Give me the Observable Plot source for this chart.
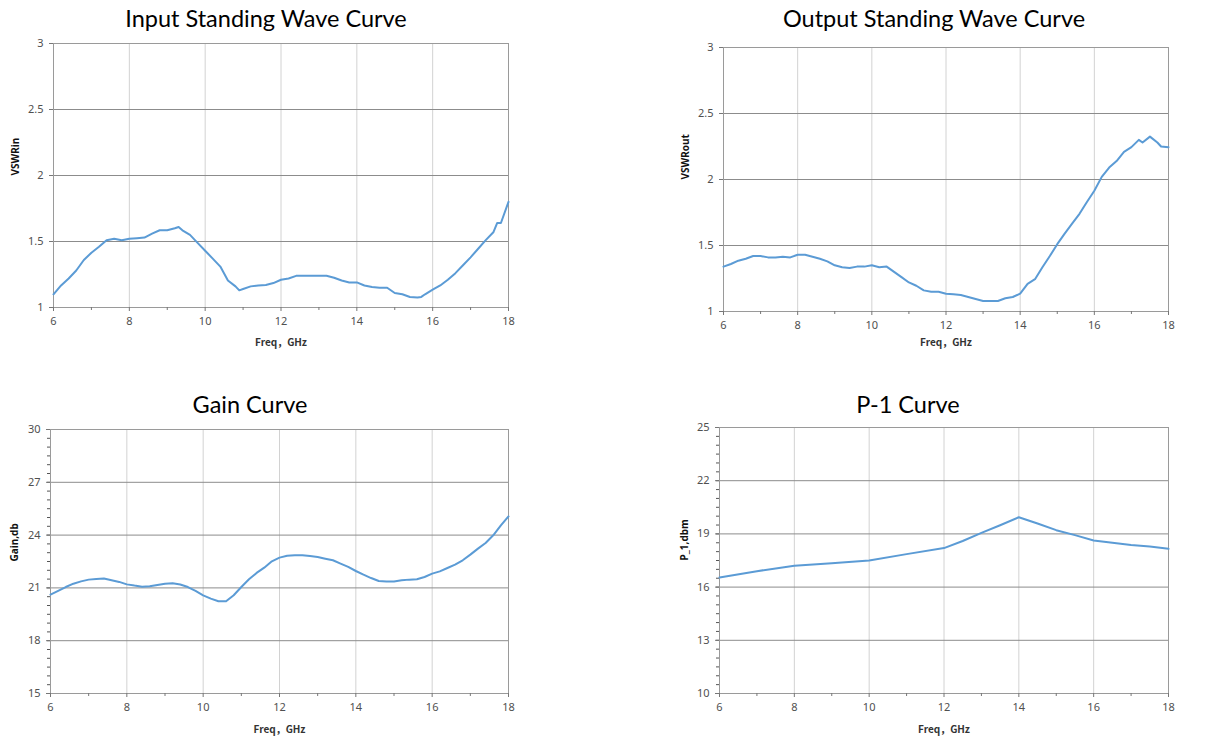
<!DOCTYPE html>
<html><head><meta charset="utf-8">
<script src="https://cdn.jsdelivr.net/npm/d3@7"></script>
<script src="https://cdn.jsdelivr.net/npm/@observablehq/plot@0.6"></script>
<style>
body{margin:0;background:#fff;}
#root{position:relative;width:1213px;height:744px;overflow:hidden;font-family:"Noto Sans",sans-serif;}
.title{position:absolute;font-family:Lato,sans-serif;font-size:23.5px;line-height:1;white-space:nowrap;transform:translateX(-50%);color:#000;}
.panel{position:absolute;}
</style></head><body><div id="root"></div><script>
// ---- Data ----
const freqIn = [6,6.2,6.4,6.6,6.8,7,7.2,7.4,7.6,7.8,8,8.2,8.4,8.6,8.8,9,9.2,9.3,9.4,9.6,9.8,10,10.2,10.4,10.6,10.8,10.9,11,11.2,11.4,11.6,11.8,12,12.2,12.4,12.6,12.8,13,13.2,13.4,13.6,13.8,14,14.2,14.4,14.6,14.8,15,15.2,15.4,15.6,15.7,15.8,16,16.2,16.4,16.6,16.8,17,17.2,17.4,17.6,17.7,17.8,18];
const vswrIn = [1.10,1.167,1.22,1.28,1.36,1.415,1.46,1.51,1.52,1.51,1.52,1.525,1.53,1.56,1.585,1.585,1.60,1.61,1.585,1.55,1.49,1.43,1.37,1.31,1.205,1.16,1.13,1.14,1.16,1.167,1.17,1.185,1.21,1.22,1.24,1.24,1.24,1.24,1.24,1.225,1.205,1.19,1.19,1.167,1.155,1.15,1.15,1.11,1.10,1.08,1.076,1.08,1.10,1.135,1.167,1.21,1.26,1.32,1.38,1.445,1.51,1.57,1.64,1.64,1.80];

const freqOut = [6,6.2,6.4,6.6,6.8,7,7.2,7.4,7.6,7.8,8,8.2,8.4,8.6,8.8,9,9.2,9.4,9.6,9.8,10,10.2,10.4,10.6,10.8,11,11.2,11.4,11.6,11.8,12,12.2,12.4,12.6,12.8,13,13.2,13.4,13.6,13.8,14,14.2,14.4,14.6,14.8,15,15.2,15.4,15.6,15.8,16,16.2,16.4,16.6,16.8,17,17.2,17.3,17.5,17.7,17.8,18];
const vswrOut = [1.34,1.36,1.385,1.40,1.42,1.42,1.41,1.41,1.415,1.41,1.43,1.43,1.415,1.40,1.38,1.35,1.335,1.33,1.34,1.34,1.35,1.335,1.34,1.30,1.26,1.22,1.195,1.16,1.15,1.15,1.135,1.13,1.125,1.11,1.095,1.08,1.08,1.08,1.10,1.11,1.135,1.21,1.245,1.335,1.42,1.51,1.59,1.665,1.74,1.83,1.915,2.02,2.09,2.14,2.21,2.245,2.30,2.28,2.325,2.28,2.25,2.245];

const freqGain = [6,6.2,6.4,6.6,6.8,7,7.2,7.4,7.6,7.8,8,8.2,8.4,8.6,8.8,9,9.2,9.4,9.6,9.8,10,10.2,10.4,10.6,10.8,11,11.2,11.4,11.6,11.8,12,12.2,12.4,12.6,12.8,13,13.2,13.4,13.6,13.8,14,14.2,14.4,14.6,14.8,15,15.2,15.4,15.6,15.8,16,16.2,16.4,16.6,16.8,17,17.2,17.4,17.6,17.8,18];
const gain = [20.62,20.83,21.05,21.24,21.37,21.47,21.51,21.53,21.43,21.34,21.2,21.13,21.07,21.09,21.17,21.24,21.26,21.19,21.05,20.83,20.58,20.39,20.24,20.24,20.58,21.05,21.49,21.85,22.15,22.51,22.72,22.83,22.85,22.85,22.81,22.76,22.66,22.57,22.38,22.19,21.96,21.75,21.56,21.39,21.37,21.37,21.43,21.47,21.49,21.62,21.81,21.94,22.13,22.32,22.57,22.89,23.23,23.55,23.99,24.55,25.06];

const freqP1 = [6,7,8,9,10,11,12,12.5,13,13.5,14,14.5,15,15.5,16,16.5,17,17.5,18];
const p1 = [16.54,16.9,17.2,17.35,17.5,17.86,18.2,18.6,19.06,19.49,19.94,19.59,19.21,18.93,18.63,18.5,18.38,18.29,18.16];

const xMajorTicks = [6,8,10,12,14,16,18];
const xMinorTicks = [7,9,11,13,15,17];
const vswrTicks = [1,1.5,2,2.5,3];
const gainTicks = [15,18,21,24,27,30];
const p1Ticks = [10,13,16,19,22,25];

const titles = ["Input Standing Wave Curve","Output Standing Wave Curve","Gain Curve","P-1 Curve"];
const xLabel = "Freq，GHz";
const yLabels = ["VSWRin","VSWRout","Gain,db","P_1,dbm"];

// ---- Rendering ----
const root = document.getElementById("root");
const rows = (xs, ys) => xs.map((f, i) => ({f, v: ys[i]}));

function halfSteps(lo, hi) { const r = []; for (let v = lo; v <= hi + 1e-9; v += 0.5) r.push(+v.toFixed(2)); return r; }

function panel(cfg) {
  const [fl, ft, fr, fb] = cfg.frame;
  const marks = [
    Plot.gridX(xMajorTicks, {stroke: "#d2d2d2", strokeOpacity: 1}),
    Plot.gridY(cfg.yTicks, {stroke: "#8c8c8c", strokeOpacity: 1}),
    Plot.frame({stroke: "#9a9a9a"}),
    Plot.axisX(xMinorTicks, {tickSize: 3, tickFormat: () => "", label: null, stroke: "#777"}),
    Plot.axisX(xMajorTicks, {tickSize: 4, tickPadding: 6, tickFormat: d => String(d), label: null, stroke: "#777", fill: "#505050"}),
  ];
  if (cfg.yMinor) marks.push(Plot.axisY(cfg.yMinor, {tickSize: 3, tickFormat: () => "", label: null, stroke: "#555"}));
  marks.push(
    Plot.axisY(cfg.yTicks, {tickSize: 4, tickPadding: 6, tickFormat: d => String(d), label: null, stroke: "#777", fill: "#505050"}),
    Plot.line(cfg.data, {x: "f", y: "v", stroke: "#5b9bd5", strokeWidth: 2, curve: "linear"}),
    Plot.text([xLabel], {frameAnchor: "bottom", dy: cfg.xlDy, fontWeight: "bold", fontSize: 10, fill: "#333", fontFamily: "'Noto Sans CJK SC', 'Noto Sans', sans-serif"}),
    Plot.text([cfg.yLabel], {frameAnchor: "left", dx: cfg.ylDx, rotate: -90, fontWeight: "bold", fontSize: 10, fill: "#111"})
  );
  const svg = Plot.plot({
    width: cfg.w, height: cfg.h,
    marginLeft: fl - cfg.left, marginTop: ft - cfg.top,
    marginRight: cfg.left + cfg.w - fr, marginBottom: cfg.top + cfg.h - fb,
    x: {domain: [6, 18], label: null},
    y: {domain: cfg.yDomain, label: null},
    style: {fontFamily: "'Noto Sans', sans-serif", fontSize: "11px", background: "transparent", overflow: "visible"},
    marks
  });
  const div = document.createElement("div");
  div.className = "panel";
  div.style.left = cfg.left + "px"; div.style.top = cfg.top + "px";
  div.appendChild(svg);
  root.appendChild(div);
  const t = document.createElement("div");
  t.className = "title";
  t.textContent = cfg.title;
  t.style.left = cfg.tx + "px"; t.style.top = cfg.ty + "px";
  root.appendChild(t);
}

panel({title: titles[0], tx: 266, ty: 7, left: 0, top: 30, w: 600, h: 330, frame: [53, 43, 508, 307],
  yDomain: [1, 3], yTicks: vswrTicks, data: rows(freqIn, vswrIn), yLabel: yLabels[0], xlDy: 38, ylDx: -38});
panel({title: titles[1], tx: 934, ty: 7, left: 606, top: 30, w: 607, h: 330, frame: [723, 47, 1168, 311],
  yDomain: [1, 3], yTicks: vswrTicks, data: rows(freqOut, vswrOut), yLabel: yLabels[1], xlDy: 34, ylDx: -38});
panel({title: titles[2], tx: 250, ty: 393, left: 0, top: 410, w: 600, h: 334, frame: [50, 429, 508, 693],
  yDomain: [15, 30], yTicks: gainTicks, yMinor: halfSteps(15, 30), data: rows(freqGain, gain), yLabel: yLabels[2], xlDy: 39, ylDx: -36});
panel({title: titles[3], tx: 908, ty: 393, left: 606, top: 410, w: 607, h: 334, frame: [719, 427, 1168, 693],
  yDomain: [10, 25], yTicks: p1Ticks, yMinor: halfSteps(10, 25), data: rows(freqP1, p1), yLabel: yLabels[3], xlDy: 39, ylDx: -35});
</script></body></html>
